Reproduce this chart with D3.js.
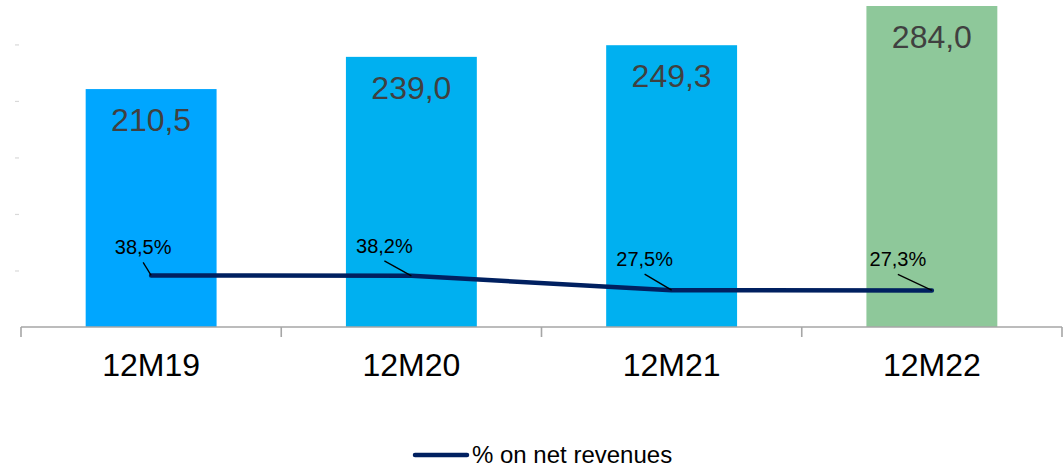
<!DOCTYPE html>
<html>
<head>
<meta charset="utf-8">
<script src="https://cdn.jsdelivr.net/npm/d3@7"></script>
<style>
  html, body { margin: 0; padding: 0; background: #fff; }
  svg { display: block; font-family: "Liberation Sans", Arial, sans-serif; }
</style>
</head>
<body>
<svg id="chart" width="1063" height="468"></svg>
<script>
// ---- data ----
const categories = ["12M19", "12M20", "12M21", "12M22"];
const barValues = [210.5, 239.0, 249.3, 284.0];
const barLabels = ["210,5", "239,0", "249,3", "284,0"];
const pctValues = [38.5, 38.2, 27.5, 27.3];
const pctLabels = ["38,5%", "38,2%", "27,5%", "27,3%"];
const barColors = ["#00A6FF", "#00B0F0", "#00B0F0", "#8EC89A"];
const leftTicks = [50, 100, 150, 200, 250];
const legendLabel = "% on net revenues";

// ---- layout (label offsets relative to each line point) ----
const labelDx = [-8, -27, -27, -34];
const labelDy = [-21, -23, -24, -24];

const svg = d3.select("#chart");
const plotLeft = 21, plotRight = 1062, baseY = 327;

const x = d3.scaleBand().domain(categories).range([plotLeft, plotRight]).paddingInner(0.497).paddingOuter(0.2485);
const y = d3.scaleLinear().domain([0, 300]).range([baseY, baseY - 300 * 1.1303]);
const y2 = d3.scaleLinear().domain([0, 100]).range([baseY, baseY - 133.9]);

// left faint ticks
const yAxis = d3.axisLeft(y).tickValues(leftTicks).tickSize(4).tickFormat("");
const ga = svg.append("g").attr("transform", "translate(19,0)").call(yAxis);
ga.select(".domain").remove();
ga.selectAll(".tick line").attr("stroke", "#d9d9d9").attr("stroke-width", 1.2);

// bars
svg.append("g").selectAll("rect").data(categories).join("rect")
  .attr("x", d => x(d))
  .attr("width", x.bandwidth())
  .attr("y", (d, i) => y(barValues[i]))
  .attr("height", (d, i) => baseY - y(barValues[i]))
  .attr("fill", (d, i) => barColors[i]);

// bar value labels
svg.append("g").selectAll("text").data(categories).join("text")
  .attr("x", d => x(d) + x.bandwidth() / 2)
  .attr("y", (d, i) => y(barValues[i]) + 42)
  .attr("text-anchor", "middle")
  .attr("font-size", 32)
  .attr("fill", "#404040")
  .text((d, i) => barLabels[i]);

// x axis
const xEdges = d3.range(categories.length + 1).map(i => plotLeft + i * (plotRight - plotLeft) / categories.length);
const gx = svg.append("g");
gx.append("line").attr("x1", plotLeft).attr("x2", plotRight).attr("y1", baseY).attr("y2", baseY)
  .attr("stroke", "#a6a6a6").attr("stroke-width", 1.6);
gx.selectAll("line.tk").data(xEdges).join("line").attr("class", "tk")
  .attr("x1", d => d).attr("x2", d => d).attr("y1", baseY).attr("y2", baseY + 10)
  .attr("stroke", "#a6a6a6").attr("stroke-width", 1.6);
gx.selectAll("text").data(categories).join("text")
  .attr("x", d => x(d) + x.bandwidth() / 2)
  .attr("y", 376)
  .attr("text-anchor", "middle")
  .attr("font-size", 32)
  .attr("fill", "#000")
  .text(d => d);

// line
const cx = d => x(d) + x.bandwidth() / 2;
const line = d3.line().x(d => cx(d)).y((d, i) => y2(pctValues[i]));
svg.append("path").datum(categories)
  .attr("d", line)
  .attr("fill", "none")
  .attr("stroke", "#002060")
  .attr("stroke-width", 4.5)
  .attr("stroke-linejoin", "round")
  .attr("stroke-linecap", "round");

// leader lines and labels
const lg = svg.append("g");
categories.forEach((c, i) => {
  const px = cx(c), py = y2(pctValues[i]);
  const lx = px + labelDx[i], ly = py + labelDy[i];
  lg.append("line").attr("x1", lx).attr("y1", ly + 8).attr("x2", px).attr("y2", py)
    .attr("stroke", "#000").attr("stroke-width", 1.3);
  lg.append("text").attr("x", lx).attr("y", ly)
    .attr("text-anchor", "middle").attr("font-size", 20).attr("fill", "#000")
    .text(pctLabels[i]);
});

// legend
const leg = svg.append("g");
leg.append("line").attr("x1", 415).attr("x2", 467).attr("y1", 455).attr("y2", 455)
  .attr("stroke", "#002060").attr("stroke-width", 4.5).attr("stroke-linecap", "round");
leg.append("text").attr("x", 472).attr("y", 463).attr("font-size", 24).attr("fill", "#000")
  .text(legendLabel);
</script>
</body>
</html>
